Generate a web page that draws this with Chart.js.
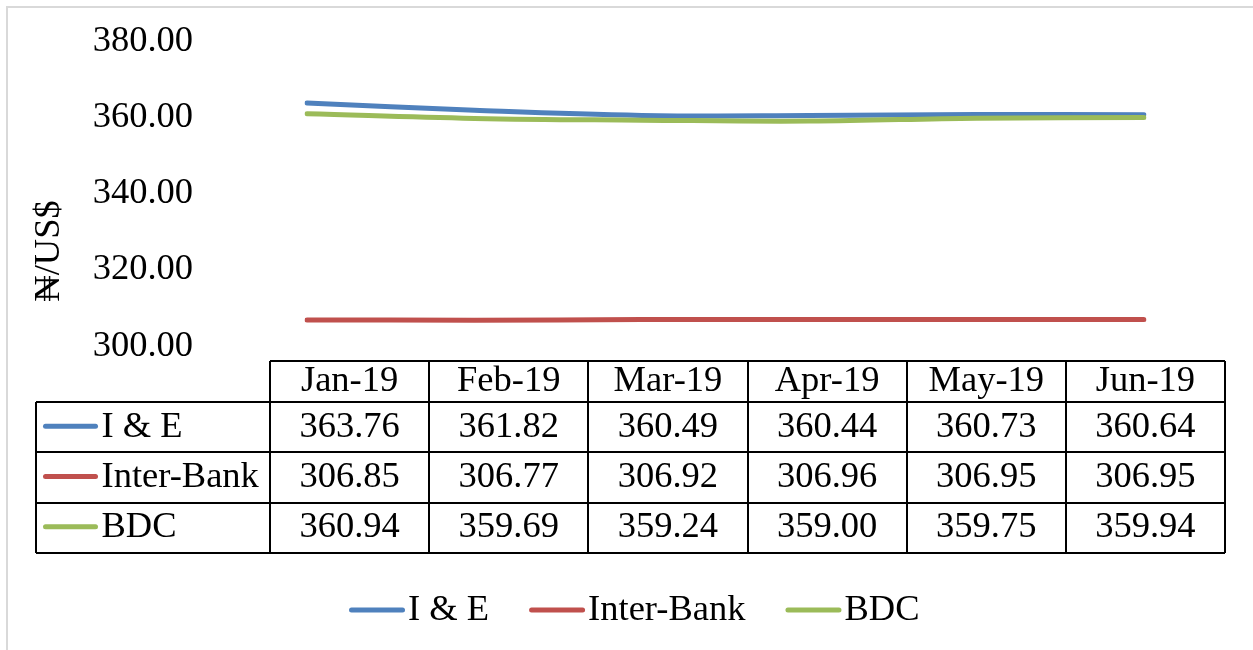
<!DOCTYPE html>
<html>
<head>
<meta charset="utf-8">
<script src="https://cdn.jsdelivr.net/npm/chart.js@4.4.1/dist/chart.umd.min.js"></script>
<style>
  html, body { margin: 0; padding: 0; background: #fff; }
  #wrap { width: 1253px; height: 650px; position: relative; }
</style>
</head>
<body>
<div id="wrap"><canvas id="c" width="1253" height="650"></canvas></div>
<script>
// Monthly exchange rates, Naira per US dollar
const months = ['Jan-19', 'Feb-19', 'Mar-19', 'Apr-19', 'May-19', 'Jun-19'];
const seriesNames = ['I & E', 'Inter-Bank', 'BDC'];
const iAndE = [363.76, 361.82, 360.49, 360.44, 360.73, 360.64];
const interBank = [306.85, 306.77, 306.92, 306.96, 306.95, 306.95];
const bdc = [360.94, 359.69, 359.24, 359.00, 359.75, 359.94];
const yTicks = [300, 320, 340, 360, 380];
const yTitle = '₦/US$';

const seriesValues = [iAndE, interBank, bdc];
const seriesColors = ['#4F81BD', '#C0504D', '#9BBB59'];

const FAMILY = '"Liberation Serif", "Times New Roman", "DejaVu Serif", serif';
const SIZE = 36.5;
const FONT = SIZE + 'px ' + FAMILY;

// Frame, axis title, data table and legend drawn around the plot
const decorations = {
  id: 'decorations',
  beforeDraw(chart) {
    const ctx = chart.ctx;
    ctx.save();
    ctx.fillStyle = '#fff';
    ctx.fillRect(0, 0, chart.width, chart.height);
    ctx.strokeStyle = '#d9d9d9';
    ctx.lineWidth = 2;
    ctx.strokeRect(7, 7, chart.width + 40, chart.height + 40);
    ctx.restore();
  },
  afterDraw(chart) {
    const ctx = chart.ctx;
    ctx.save();
    ctx.font = FONT;
    ctx.fillStyle = '#000';

    // vertical axis title
    ctx.save();
    ctx.translate(49, 251);
    ctx.rotate(-Math.PI / 2);
    ctx.textAlign = 'center';
    ctx.textBaseline = 'middle';
    ctx.fillText(yTitle, 0, 0);
    ctx.restore();

    // data table grid
    const keyLeft = 36, colLeft = 270, colRight = 1225;
    const colW = (colRight - colLeft) / months.length;
    const headTop = 361, headBottom = 402, rowH = 50.3;
    const tableBottom = headBottom + rowH * seriesNames.length;
    const colX = i => Math.round(colLeft + i * colW);

    ctx.strokeStyle = '#000';
    ctx.lineWidth = 2;
    ctx.beginPath();
    ctx.moveTo(colLeft, headTop); ctx.lineTo(colRight, headTop);
    for (let r = 0; r <= seriesNames.length; r++) {
      const y = Math.round(headBottom + r * rowH);
      ctx.moveTo(keyLeft, y); ctx.lineTo(colRight, y);
    }
    ctx.moveTo(keyLeft, headBottom); ctx.lineTo(keyLeft, Math.round(tableBottom));
    for (let c = 0; c <= months.length; c++) {
      const x = colX(c);
      ctx.moveTo(x, headTop); ctx.lineTo(x, Math.round(tableBottom));
    }
    ctx.stroke();

    // header labels
    ctx.textBaseline = 'middle';
    ctx.textAlign = 'center';
    months.forEach((m, c) => {
      ctx.fillText(m, colLeft + (c + 0.5) * colW, (headTop + headBottom) / 2);
    });

    // series rows: key line, name, values
    seriesNames.forEach((name, r) => {
      const cy = headBottom + (r + 0.5) * rowH;
      ctx.strokeStyle = seriesColors[r];
      ctx.lineWidth = 5;
      ctx.lineCap = 'round';
      ctx.beginPath();
      ctx.moveTo(45.5, cy - 1); ctx.lineTo(95.5, cy - 1);
      ctx.stroke();
      ctx.textAlign = 'left';
      ctx.fillText(name, 101.5, cy);
      ctx.textAlign = 'center';
      seriesValues[r].forEach((v, c) => {
        ctx.fillText(v.toFixed(2), colLeft + (c + 0.5) * colW, cy);
      });
    });

    // legend
    let lx = 349;
    const ly = 610;
    ctx.textAlign = 'left';
    seriesNames.forEach((name, r) => {
      ctx.strokeStyle = seriesColors[r];
      ctx.lineWidth = 5;
      ctx.lineCap = 'round';
      ctx.beginPath();
      ctx.moveTo(lx + 2.5, ly); ctx.lineTo(lx + 53.5, ly);
      ctx.stroke();
      lx += 59;
      ctx.fillText(name, lx, ly);
      lx += ctx.measureText(name).width + 40;
    });
    ctx.restore();
  }
};

new Chart(document.getElementById('c'), {
  type: 'line',
  data: {
    labels: months,
    datasets: seriesNames.map((name, i) => ({
      label: name,
      data: seriesValues[i],
      borderColor: seriesColors[i],
      backgroundColor: seriesColors[i],
      borderWidth: 5,
      borderCapStyle: 'round',
      borderJoinStyle: 'round',
      pointRadius: 0,
      tension: 0.4,
      fill: false,
      order: seriesNames.length - i
    }))
  },
  options: {
    responsive: false,
    animation: false,
    devicePixelRatio: 1,
    layout: { padding: { left: 0, right: 109, top: 41, bottom: 304 } },
    plugins: { legend: { display: false }, tooltip: { enabled: false } },
    scales: {
      x: { type: 'category', display: false, offset: false },
      y: {
        min: 300,
        max: 380,
        afterFit(scale) {
          scale.width = 307;
          scale.paddingTop = 0;
          scale.paddingBottom = 0;
        },
        afterBuildTicks(scale) { scale.ticks = yTicks.map(v => ({ value: v })); },
        grid: { display: false, drawTicks: false },
        border: { display: false },
        ticks: {
          padding: 114,
          color: '#000',
          font: { family: FAMILY, size: SIZE },
          callback: v => Number(v).toFixed(2)
        }
      }
    }
  },
  plugins: [decorations]
});
</script>
</body>
</html>
